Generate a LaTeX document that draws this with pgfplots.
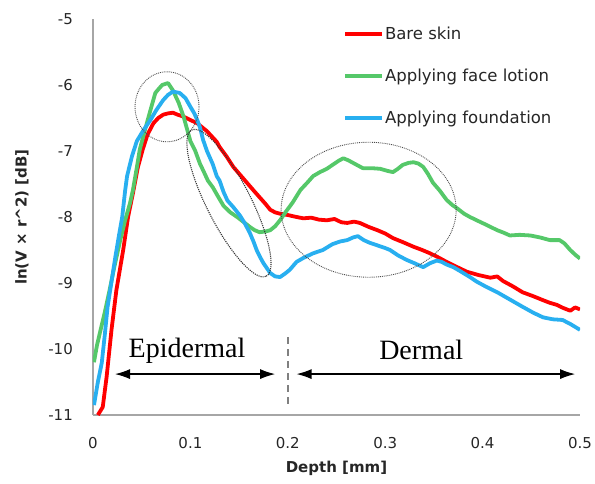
\documentclass[border=0pt]{standalone}
\usepackage{pgfplots}
\pgfplotsset{compat=1.18}
\usepackage{fontspec}
\setmainfont{DejaVu Sans}
\newfontfamily\serifft{Liberation Serif}
\usetikzlibrary{arrows.meta}
\definecolor{bare}{RGB}{255,0,0}
\definecolor{lotion}{RGB}{85,200,105}
\definecolor{found}{RGB}{40,175,240}

\begin{document}
\begin{tikzpicture}
\path[use as bounding box] (-93pt,-68pt) rectangle (502pt,415pt);
\begin{axis}[
  scale only axis,
  width=487pt, height=396pt,
  xmin=0, xmax=0.5, ymin=-11, ymax=-5,
  axis x line=bottom, axis y line=left,
  axis line style={-, draw=black!35, line width=1.3pt},
  xtick={0,0.1,0.2,0.3,0.4,0.5}, ytick={-11,-10,-9,-8,-7,-6,-5},
  major tick length=0pt,
  /pgf/number format/assume math mode=true,
  tick label style={font=\fontsize{15}{18}\selectfont, text=black!85},
  xticklabel style={anchor=center, yshift=-28pt},
  yticklabel style={anchor=east, inner sep=0pt, xshift=-20pt},
  xlabel={Depth [mm]},
  ylabel={ln(V × r\textasciicircum 2) [dB]},
  every axis x label/.style={at={(axis description cs:0.5,-0.134)}, anchor=center,
    font=\fontsize{15}{18}\selectfont\bfseries, text=black!85},
  every axis y label/.style={at={(axis description cs:-0.146,0.5)}, anchor=center, rotate=90,
    font=\fontsize{15}{18}\selectfont\bfseries, text=black!85},
  legend style={at={(axis cs:0.2567,-5.1)}, anchor=north west, draw=none, fill=none,
    font=\fontsize{16.5}{19}\selectfont, text=black!85, row sep=26pt, inner sep=0pt,
    nodes={inner sep=1pt}},
  legend cell align=left,
  legend image code/.code={\draw[#1] (0pt,0pt) -- (37pt,0pt);},
  line join=round,
]

\addplot[bare, line width=3.8pt] coordinates {
(0.005,-11.0)(0.010,-10.88)(0.014,-10.42)(0.019,-9.71)(0.024,-9.11)(0.031,-8.5)
(0.036,-8.0)(0.041,-7.64)(0.046,-7.25)(0.051,-6.98)(0.056,-6.75)(0.062,-6.58)
(0.067,-6.5)(0.072,-6.45)(0.077,-6.43)(0.082,-6.42)(0.087,-6.45)(0.093,-6.48)
(0.1,-6.53)(0.107,-6.58)(0.112,-6.64)(0.117,-6.70)(0.122,-6.78)(0.127,-6.86)
(0.13,-6.94)(0.137,-7.08)(0.144,-7.24)(0.151,-7.36)(0.158,-7.48)(0.165,-7.6)
(0.171,-7.70)(0.177,-7.8)(0.182,-7.89)(0.187,-7.93)(0.192,-7.95)(0.2,-7.97)
(0.209,-8.0)(0.216,-8.02)(0.224,-8.01)(0.232,-8.04)(0.24,-8.05)(0.248,-8.03)
(0.255,-8.08)(0.261,-8.09)(0.268,-8.07)(0.274,-8.09)(0.283,-8.15)(0.292,-8.2)
(0.3,-8.25)(0.308,-8.32)(0.318,-8.38)(0.329,-8.45)(0.338,-8.5)(0.346,-8.55)
(0.353,-8.6)(0.363,-8.68)(0.374,-8.76)(0.384,-8.83)(0.396,-8.88)(0.408,-8.92)
(0.415,-8.9)(0.421,-8.97)(0.431,-9.05)(0.441,-9.14)(0.452,-9.2)(0.462,-9.26)
(0.469,-9.3)(0.476,-9.33)(0.483,-9.38)(0.49,-9.42)(0.495,-9.37)(0.5,-9.4)
};
\addlegendentry{Bare skin}

\addplot[lotion, line width=3.8pt] coordinates {
(0.001,-10.2)(0.004,-9.95)(0.007,-9.76)(0.012,-9.45)(0.017,-9.11)(0.022,-8.75)
(0.028,-8.35)(0.033,-8.05)(0.038,-7.79)(0.041,-7.59)(0.045,-7.25)(0.048,-6.98)
(0.053,-6.7)(0.059,-6.38)(0.064,-6.12)(0.068,-6.05)(0.071,-6.0)(0.077,-5.97)
(0.082,-6.08)(0.088,-6.27)(0.093,-6.48)(0.1,-6.85)(0.105,-7.0)(0.11,-7.2)
(0.113,-7.29)(0.118,-7.45)(0.123,-7.55)(0.128,-7.68)(0.134,-7.83)(0.141,-7.93)
(0.148,-8.0)(0.155,-8.08)(0.161,-8.15)(0.166,-8.2)(0.171,-8.23)(0.177,-8.22)
(0.182,-8.2)(0.187,-8.14)(0.192,-8.05)(0.198,-7.92)(0.205,-7.78)(0.213,-7.59)
(0.22,-7.48)(0.226,-7.38)(0.233,-7.32)(0.24,-7.27)(0.246,-7.21)(0.252,-7.15)
(0.257,-7.11)(0.262,-7.14)(0.267,-7.18)(0.272,-7.22)(0.277,-7.26)(0.286,-7.26)
(0.295,-7.27)(0.302,-7.3)(0.308,-7.32)(0.313,-7.27)(0.318,-7.21)(0.324,-7.18)
(0.329,-7.17)(0.334,-7.19)(0.339,-7.24)(0.344,-7.35)(0.349,-7.48)(0.356,-7.6)
(0.363,-7.74)(0.369,-7.82)(0.374,-7.87)(0.381,-7.95)(0.387,-8.0)(0.394,-8.05)
(0.404,-8.12)(0.415,-8.2)(0.422,-8.24)(0.428,-8.28)(0.438,-8.27)(0.449,-8.28)
(0.459,-8.31)(0.469,-8.35)(0.479,-8.35)(0.484,-8.4)(0.49,-8.5)(0.495,-8.57)(0.5,-8.63)
};
\addlegendentry{Applying face lotion}

\addplot[found, line width=3.8pt] coordinates {
(0.001,-10.85)(0.005,-10.5)(0.009,-10.21)(0.012,-9.8)(0.015,-9.36)(0.019,-8.98)
(0.023,-8.6)(0.027,-8.25)(0.03,-8.0)(0.033,-7.6)(0.035,-7.38)(0.04,-7.08)
(0.045,-6.85)(0.052,-6.68)(0.059,-6.53)(0.065,-6.38)(0.072,-6.23)(0.077,-6.15)
(0.082,-6.1)(0.089,-6.12)(0.095,-6.2)(0.1,-6.33)(0.104,-6.43)(0.107,-6.53)
(0.11,-6.65)(0.113,-6.83)(0.117,-7.0)(0.123,-7.2)(0.127,-7.38)(0.13,-7.45)
(0.134,-7.62)(0.138,-7.75)(0.144,-7.85)(0.151,-7.98)(0.156,-8.1)(0.161,-8.24)
(0.165,-8.38)(0.168,-8.5)(0.172,-8.62)(0.175,-8.7)(0.182,-8.85)(0.187,-8.9)
(0.192,-8.91)(0.197,-8.86)(0.202,-8.8)(0.209,-8.68)(0.216,-8.62)(0.226,-8.55)
(0.236,-8.5)(0.246,-8.41)(0.254,-8.37)(0.261,-8.35)(0.267,-8.31)(0.272,-8.29)
(0.278,-8.35)(0.284,-8.39)(0.292,-8.43)(0.3,-8.47)(0.305,-8.5)(0.313,-8.58)
(0.322,-8.65)(0.33,-8.7)(0.339,-8.76)(0.346,-8.7)(0.353,-8.66)(0.358,-8.68)
(0.363,-8.72)(0.37,-8.76)(0.377,-8.82)(0.387,-8.91)(0.394,-8.98)(0.404,-9.06)
(0.415,-9.14)(0.428,-9.25)(0.441,-9.36)(0.452,-9.45)(0.462,-9.52)(0.472,-9.55)
(0.482,-9.56)(0.49,-9.62)(0.5,-9.71)
};
\addlegendentry{Applying foundation}

% region annotations
\coordinate (e1) at (axis cs:0.076,-6.33);
\coordinate (e2) at (axis cs:0.1396,-7.79);
\coordinate (e3) at (axis cs:0.283,-7.89);

\draw[gray, line width=2pt, dash pattern=on 7pt off 5pt] (axis cs:0.2,-9.82) -- (axis cs:0.2,-10.88);
\draw[{Latex[length=15pt,width=10pt]}-{Latex[length=15pt,width=10pt]}, line width=1.2pt]
  (axis cs:0.0226,-10.38) -- (axis cs:0.187,-10.38);
\draw[{Latex[length=15pt,width=10pt]}-{Latex[length=15pt,width=10pt]}, line width=1.2pt]
  (axis cs:0.209,-10.38) -- (axis cs:0.495,-10.38);
\node[font=\serifft\fontsize{28}{30}\selectfont] at (axis cs:0.0965,-10.02) {Epidermal};
\node[font=\serifft\fontsize{28}{30}\selectfont] at (axis cs:0.337,-10.02) {Dermal};
\end{axis}

\draw[black!70, densely dotted, line width=0.9pt] (e1) ellipse [x radius=32pt, y radius=35pt];
\draw[black!80, densely dotted, line width=1.1pt, rotate around={-63:(e2)}] (e2) ellipse [x radius=82pt, y radius=22pt];
\draw[black!70, densely dotted, line width=0.9pt] (e3) ellipse [x radius=87.5pt, y radius=67.5pt];
\end{tikzpicture}
\end{document}
